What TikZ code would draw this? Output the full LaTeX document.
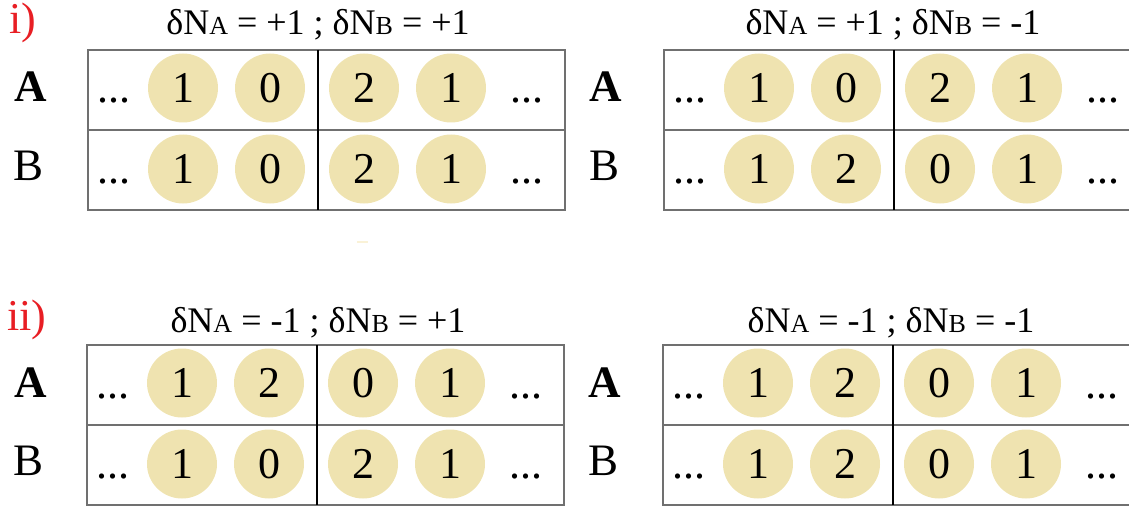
\documentclass[tikz,border=0pt]{standalone}
\usepackage{fontspec}
\setmainfont{Liberation Serif}
\definecolor{ballfill}{RGB}{239,227,176}
\definecolor{labred}{RGB}{232,30,36}
\definecolor{framegray}{RGB}{112,112,112}
\definecolor{strayline}{RGB}{250,242,215}
\tikzset{
  frame/.style={draw=framegray, line width=1.8pt},
  divider/.style={draw=black, line width=1.3pt},
  dig/.style={ellipse, fill=ballfill, minimum width=70pt, minimum height=69pt, inner sep=0pt,
              font=\fontsize{44}{50}\selectfont},
  dotsnode/.style={anchor=base, inner sep=0pt, font=\fontsize{44}{50}\selectfont},
  titlenode/.style={anchor=base, inner sep=0pt, font=\fontsize{36}{40}\selectfont},
  rowlab/.style={anchor=base, inner sep=0pt, font=\fontsize{45}{50}\selectfont},
  partlab/.style={anchor=base west, inner sep=0pt, text=labred, font=\fontsize{44}{48}\selectfont},
}
\usetikzlibrary{shapes.geometric}
\newcommand\sml[1]{{\fontsize{26}{30}\selectfont #1}}
\newcommand\mytable[4]{%
  \begin{scope}[shift={#2}]
    \draw[frame] (0,0) rectangle (477,160);
    \draw[frame] (0,80) -- (477,80);
    \draw[divider] (230,0) -- (230,160);
    \node[dotsnode] (#1-adl) at (26,53) {...};
    \node[dotsnode] (#1-adr) at (439,53) {...};
    \node[dotsnode] (#1-bdl) at (26,133) {...};
    \node[dotsnode] (#1-bdr) at (439,133) {...};
    \foreach \d [count=\i] in {#3} {
      \pgfmathsetmacro\xx{{95,182,276,363}[\i-1]}
      \node[dig] (#1-a\i) at (\xx,38) {\d};
    }
    \foreach \d [count=\i] in {#4} {
      \pgfmathsetmacro\xx{{95,182,276,363}[\i-1]}
      \node[dig] (#1-b\i) at (\xx,119) {\d};
    }
  \end{scope}}
\begin{document}
\begin{tikzpicture}[x=1pt,y=-1pt]
\useasboundingbox (0,0) rectangle (1129,508);
\clip (0,0) rectangle (1129,508);
% part labels
\node[partlab] (pi) at (9,34) {i)};
\node[partlab] (pii) at (7,330) {ii)};
% row labels
\node[rowlab] (la1) at (31,102) {\bfseries A};
\node[rowlab] (lb1) at (29,180) {B};
\node[rowlab] (la2) at (31,397) {\bfseries A};
\node[rowlab] (lb2) at (29,475) {B};
\node[rowlab] (la3) at (606,102) {\bfseries A};
\node[rowlab] (lb3) at (604,180) {B};
\node[rowlab] (la4) at (605,397) {\bfseries A};
\node[rowlab] (lb4) at (603,475) {B};
% titles
\node[titlenode] (t1) at (318,35) {δN\sml{A} = +1 ; δN\sml{B} = +1};
\node[titlenode] (t2) at (893,35) {δN\sml{A} = +1 ; δN\sml{B} = -1};
\node[titlenode] (t3) at (318,332) {δN\sml{A} = -1 ; δN\sml{B} = +1};
\node[titlenode] (t4) at (891,332) {δN\sml{A} = -1 ; δN\sml{B} = -1};
% tables
\mytable{tl}{(88,50)}{1,0,2,1}{1,0,2,1}
\mytable{tr}{(664,50)}{1,0,2,1}{1,2,0,1}
\mytable{bl}{(87,345)}{1,2,0,1}{1,0,2,1}
\mytable{br}{(663,345)}{1,2,0,1}{1,2,0,1}
% stray mark
\draw[strayline, line width=2pt] (357,242) -- (368,242);
\end{tikzpicture}
\end{document}
